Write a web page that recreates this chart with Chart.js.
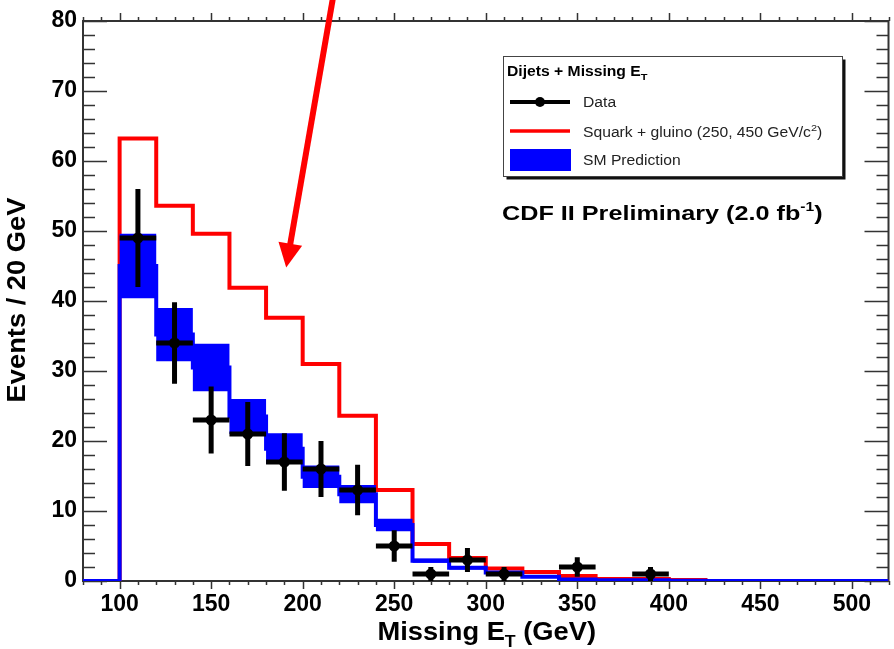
<!DOCTYPE html>
<html>
<head>
<meta charset="utf-8">
<title>Missing ET - dijets</title>
<script src="https://cdn.jsdelivr.net/npm/chart.js@4.4.1/dist/chart.umd.min.js"></script>
<style>
  html, body { margin: 0; padding: 0; background: #fff; }
  #wrap { width: 894px; height: 649px; position: relative; }
</style>
</head>
<body>
<div id="wrap"><canvas id="metChart"></canvas></div>
<script>
// Missing ET spectrum, dijets + MET selection, 20 GeV bins

const binEdges = [80, 100, 120, 140, 160, 180, 200, 220, 240, 260, 280, 300,
                  320, 340, 360, 380, 400, 420, 440, 460, 480, 500, 520];

// one value per bin (22 bins)
const squarkGluino = [0, 63.2, 53.6, 49.6, 41.9, 37.6, 31.0, 23.6, 13.0, 5.3, 3.3, 1.8,
                      1.3, 0.7, 0.3, 0.3, 0.15, 0, 0, 0, 0, 0];
const smPrediction = [0, 45.0, 35.2, 30.5, 23.5, 18.9, 14.9, 12.4, 8.0, 2.9, 1.9, 1.2,
                      0.6, 0.2, 0.1, 0.1, 0.05, 0, 0, 0, 0, 0];
const smError      = [0, 4.6, 3.8, 3.4, 2.5, 2.2, 1.6, 1.3, 0.9, 0.3, 0.25, 0.15,
                      0.1, 0.05, 0, 0, 0, 0, 0, 0, 0, 0];

// observed events
const dataCenters = [110, 130, 150, 170, 190, 210, 230, 250, 270, 290, 310, 350, 390];
const dataCounts  = [49, 34, 23, 21, 17, 16, 13, 5, 1, 3, 1, 2, 1];
const dataErrors  = [7.0, 5.83, 4.8, 4.58, 4.12, 4.0, 3.61, 2.24, 1.0, 1.73, 1.0, 1.41, 1.0];
const binHalfWidth = 10;

const xTickValues = [100, 150, 200, 250, 300, 350, 400, 450, 500];
const yTickValues = [0, 10, 20, 30, 40, 50, 60, 70, 80];

// arrow pointing at the signal curve, in (GeV, events)
const arrowFrom = [217, 84];
const arrowTo = [191, 44.8];

const FONT = '"Liberation Sans", Arial, Helvetica, sans-serif';
const STRETCH = 1.12;

function histPoints(values) {
  return binEdges.map((x, i) => ({ x: x, y: values[Math.min(i, values.length - 1)] }));
}

const bandUpper = smPrediction.map((v, i) => v + smError[i]);
const bandLower = smPrediction.map((v, i) => v - smError[i]);

// draw a run of text pieces (for sub/superscripts), optionally rotated
function drawRuns(ctx, runs, x, y, size, weight, opts) {
  opts = opts || {};
  ctx.save();
  let total = 0;
  runs.forEach(r => {
    ctx.font = `${weight} ${size * (r.s || 1)}px ${FONT}`;
    r.w = ctx.measureText(r.t).width;
    total += r.w;
  });
  ctx.translate(x, y);
  if (opts.rotate) ctx.rotate(opts.rotate);
  ctx.scale(opts.stretch || STRETCH, 1);
  let cx = opts.align === 'center' ? -total / 2 : 0;
  ctx.textAlign = 'left';
  ctx.textBaseline = 'alphabetic';
  ctx.fillStyle = opts.color || '#000';
  runs.forEach(r => {
    ctx.font = `${weight} ${size * (r.s || 1)}px ${FONT}`;
    ctx.fillText(r.t, cx, (r.dy || 0) * size);
    cx += r.w;
  });
  ctx.restore();
}

// frame and ROOT-style ticks
const framePlugin = {
  id: 'frame',
  beforeDatasetsDraw(chart) {
    const { ctx, chartArea: a, scales: { x, y } } = chart;
    ctx.save();
    ctx.strokeStyle = '#333';
    ctx.lineWidth = 1.5;
    ctx.beginPath();
    // y ticks, inside on both sides
    for (let v = 0; v <= 80; v += 2) {
      const py = Math.round(y.getPixelForValue(v)) + 0.5;
      const len = v % 10 === 0 ? 24 : 12;
      ctx.moveTo(a.left, py); ctx.lineTo(a.left + len, py);
      ctx.moveTo(a.right, py); ctx.lineTo(a.right - len, py);
    }
    // x ticks, outside top and bottom
    for (let v = 80; v <= 520; v += 10) {
      const px = Math.round(x.getPixelForValue(v)) + 0.5;
      const len = v % 50 === 0 ? 8 : 4;
      ctx.moveTo(px, a.bottom); ctx.lineTo(px, a.bottom + len);
      ctx.moveTo(px, a.top); ctx.lineTo(px, a.top - len);
    }
    ctx.stroke();
    ctx.lineWidth = 2;
    ctx.strokeRect(a.left, a.top, a.right - a.left, a.bottom - a.top);
    ctx.restore();
  }
};

// data error bars
const errorBarPlugin = {
  id: 'errorBars',
  afterDatasetsDraw(chart) {
    const { ctx, scales: { x, y } } = chart;
    ctx.save();
    ctx.strokeStyle = '#000';
    ctx.lineWidth = 5;
    ctx.beginPath();
    dataCenters.forEach((c, i) => {
      const px = x.getPixelForValue(c);
      const py = y.getPixelForValue(dataCounts[i]);
      ctx.moveTo(x.getPixelForValue(c - binHalfWidth), py);
      ctx.lineTo(x.getPixelForValue(c + binHalfWidth), py);
      ctx.moveTo(px, y.getPixelForValue(dataCounts[i] + dataErrors[i]));
      ctx.lineTo(px, y.getPixelForValue(Math.max(0, dataCounts[i] - dataErrors[i])));
    });
    ctx.stroke();
    ctx.restore();
  }
};

// titles, legend, label and arrow
const decorPlugin = {
  id: 'decor',
  afterDraw(chart) {
    const { ctx, chartArea: a, scales: { x, y } } = chart;

    // axis titles
    drawRuns(ctx, [{ t: 'Missing E' }, { t: 'T', s: 0.65, dy: 0.25 }, { t: ' (GeV)' }],
      (a.left + a.right) / 2 + 1, 640, 26, 'bold', { align: 'center', stretch: 1.05 });
    drawRuns(ctx, [{ t: 'Events / 20 GeV' }], 25, 300, 26, 'bold',
      { align: 'center', rotate: -Math.PI / 2, stretch: 1.05 });

    // legend box with drop shadow
    const bx = 503.5, by = 56.5, bw = 339, bh = 120;
    ctx.save();
    ctx.fillStyle = '#111';
    ctx.fillRect(bx + 3, by + 3, bw, bh);
    ctx.fillStyle = '#fff';
    ctx.fillRect(bx, by, bw, bh);
    ctx.strokeStyle = '#444';
    ctx.lineWidth = 1;
    ctx.strokeRect(bx, by, bw, bh);

    // legend symbols
    ctx.strokeStyle = '#000';
    ctx.lineWidth = 4;
    ctx.beginPath(); ctx.moveTo(510, 102); ctx.lineTo(570, 102); ctx.stroke();
    ctx.fillStyle = '#000';
    ctx.beginPath(); ctx.arc(540, 102, 5, 0, Math.PI * 2); ctx.fill();
    ctx.strokeStyle = '#ff0000';
    ctx.lineWidth = 3.5;
    ctx.beginPath(); ctx.moveTo(510, 131); ctx.lineTo(570, 131); ctx.stroke();
    ctx.fillStyle = '#0000ff';
    ctx.fillRect(510, 149, 61, 22);
    ctx.restore();

    drawRuns(ctx, [{ t: 'Dijets + Missing E' }, { t: 'T', s: 0.7, dy: 0.3 }], 507, 76, 14, 'bold');
    drawRuns(ctx, [{ t: 'Data' }], 583, 107, 14, 'normal', { color: '#222' });
    drawRuns(ctx, [{ t: 'Squark + gluino (250, 450 GeV/c' }, { t: '2', s: 0.7, dy: -0.45 }, { t: ')' }],
      583, 137, 14, 'normal', { color: '#222' });
    drawRuns(ctx, [{ t: 'SM Prediction' }], 583, 165, 14, 'normal', { color: '#222' });

    drawRuns(ctx, [{ t: 'CDF II Preliminary (2.0 fb' }, { t: '-1', s: 0.62, dy: -0.42 }, { t: ')' }],
      502, 220, 21, 'bold', { stretch: 1.2 });

    // red arrow
    const x0 = x.getPixelForValue(arrowFrom[0]), y0 = y.getPixelForValue(arrowFrom[1]);
    const x1 = x.getPixelForValue(arrowTo[0]), y1 = y.getPixelForValue(arrowTo[1]);
    const len = Math.hypot(x1 - x0, y1 - y0);
    const ux = (x1 - x0) / len, uy = (y1 - y0) / len;
    const headLen = 24, headHalf = 12;
    ctx.save();
    ctx.strokeStyle = '#ff0000';
    ctx.fillStyle = '#ff0000';
    ctx.lineWidth = 6;
    ctx.beginPath();
    ctx.moveTo(x0, y0);
    ctx.lineTo(x1 - ux * headLen * 0.8, y1 - uy * headLen * 0.8);
    ctx.stroke();
    const bxh = x1 - ux * headLen, byh = y1 - uy * headLen;
    ctx.beginPath();
    ctx.moveTo(x1, y1);
    ctx.lineTo(bxh - uy * headHalf, byh + ux * headHalf);
    ctx.lineTo(bxh + uy * headHalf, byh - ux * headHalf);
    ctx.closePath();
    ctx.fill();
    ctx.restore();
  }
};

const tickFont = { family: FONT, size: 23, weight: 'bold' };

new Chart(document.getElementById('metChart'), {
  type: 'line',
  data: {
    datasets: [
      {
        label: 'Data',
        data: dataCenters.map((c, i) => ({ x: c, y: dataCounts[i] })),
        showLine: false,
        pointRadius: 5.5,
        pointBackgroundColor: '#000',
        pointBorderColor: '#000',
        pointBorderWidth: 0,
        order: 0
      },
      {
        label: 'SM Prediction',
        data: histPoints(smPrediction),
        stepped: 'before',
        borderColor: '#0000ff',
        borderWidth: 4,
        pointRadius: 0,
        fill: false,
        order: 1
      },
      {
        label: 'SM band upper',
        data: histPoints(bandUpper),
        stepped: 'before',
        borderColor: 'rgba(0,0,0,0)',
        borderWidth: 0,
        pointRadius: 0,
        backgroundColor: '#0000ff',
        fill: '+1',
        order: 2
      },
      {
        label: 'SM band lower',
        data: histPoints(bandLower),
        stepped: 'before',
        borderColor: 'rgba(0,0,0,0)',
        borderWidth: 0,
        pointRadius: 0,
        fill: false,
        order: 3
      },
      {
        label: 'Squark + gluino (250, 450 GeV/c2)',
        data: histPoints(squarkGluino),
        stepped: 'before',
        borderColor: '#ff0000',
        borderWidth: 4,
        pointRadius: 0,
        fill: false,
        order: 4
      }
    ]
  },
  options: {
    responsive: true,
    maintainAspectRatio: false,
    animation: false,
    events: [],
    layout: { padding: { top: 21, right: 3, left: 0, bottom: 0 } },
    plugins: {
      legend: { display: false },
      tooltip: { enabled: false }
    },
    scales: {
      x: {
        type: 'linear',
        min: 80,
        max: 520,
        afterBuildTicks: s => { s.ticks = xTickValues.map(v => ({ value: v })); },
        afterFit: s => { s.height = 68; },
        grid: { display: false, drawTicks: false },
        border: { display: false },
        ticks: { font: tickFont, color: '#000', padding: 10, maxRotation: 0, autoSkip: false }
      },
      y: {
        type: 'linear',
        min: 0,
        max: 80,
        afterBuildTicks: s => { s.ticks = yTickValues.map(v => ({ value: v })); },
        afterFit: s => { s.width = 83; },
        grid: { display: false, drawTicks: false },
        border: { display: false },
        ticks: { font: tickFont, color: '#000', padding: 6 }
      }
    }
  },
  plugins: [framePlugin, errorBarPlugin, decorPlugin]
});
</script>
</body>
</html>
